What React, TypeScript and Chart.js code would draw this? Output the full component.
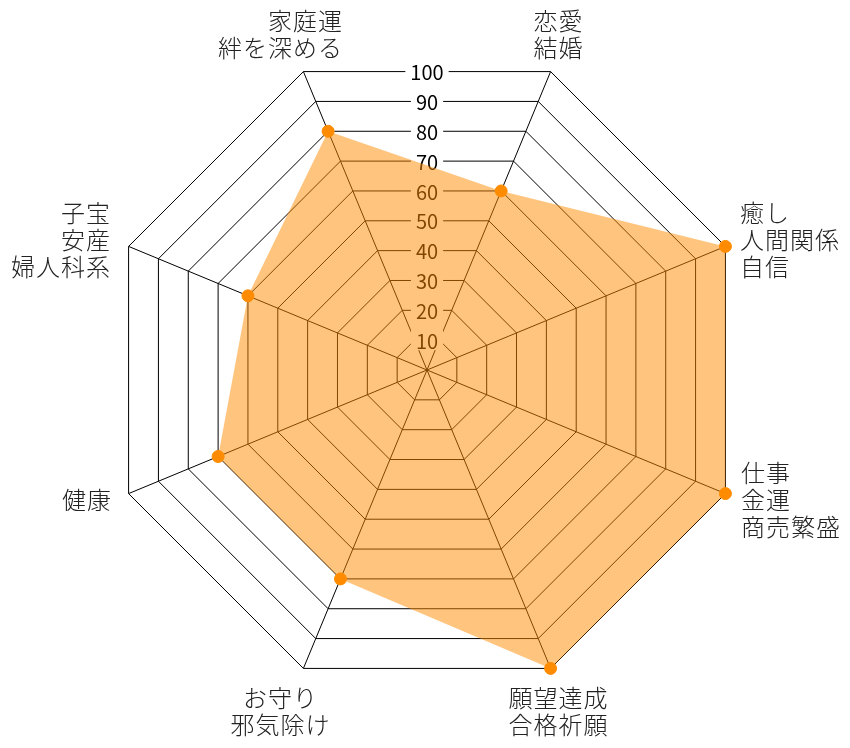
import { useEffect, useRef } from 'react';
import { Chart, registerables } from 'chart.js';

Chart.register(...registerables);

// axis labels, clockwise from the upper-left axis
const categories: string[][] = [
  ['家庭運', '絆を深める'],
  ['恋愛', '結婚'],
  ['癒し', '人間関係', '自信'],
  ['仕事', '金運', '商売繁盛'],
  ['願望達成', '合格祈願'],
  ['お守り', '邪気除け'],
  ['健康'],
  ['子宝', '安産', '婦人科系'],
];

const scores = [80, 60, 100, 100, 100, 70, 70, 60];

const tickValues = [10, 20, 30, 40, 50, 60, 70, 80, 90, 100];

const FONT = '"Noto Sans CJK JP", "Noto Sans", sans-serif';

// how each label block sits against its axis end
const labelAlign: CanvasTextAlign[] = ['right', 'center', 'left', 'left', 'center', 'center', 'right', 'right'];
const labelShift = [46, 1.5, -1, 0, 1.5, -16.5, -1, -2];

const radarText = {
  id: 'radarText',
  // tick labels go under the dataset fill, like the grid
  beforeDatasetsDraw(chart: Chart) {
    const scale: any = chart.scales.r;
    const ctx = chart.ctx;
    const k = Math.cos(Math.PI / 8);
    ctx.save();
    ctx.font = `20px ${FONT}`;
    ctx.textAlign = 'center';
    ctx.textBaseline = 'middle';
    tickValues.forEach(v => {
      const y = scale.yCenter - scale.getDistanceFromCenterForValue(v) * k;
      const label = String(v);
      const w = ctx.measureText(label).width;
      ctx.fillStyle = '#ffffff';
      ctx.fillRect(scale.xCenter - w / 2 - 5, y - 10, w + 10, 20);
      ctx.fillStyle = '#000000';
      ctx.fillText(label, scale.xCenter, y + 1);
    });
    ctx.restore();
  },
  afterDraw(chart: Chart) {
    const scale: any = chart.scales.r;
    const ctx: any = chart.ctx;
    const lineH = 27;
    ctx.save();
    ctx.font = `300 24px ${FONT}`;
    ctx.letterSpacing = '1px';
    ctx.textBaseline = 'middle';
    ctx.fillStyle = '#222222';
    categories.forEach((lines, i) => {
      const p = scale.getPointPosition(i, scale.drawingArea + 17);
      const dx = Math.cos(p.angle);
      const dy = Math.sin(p.angle);
      let y0: number;
      if (Math.abs(dx) > Math.abs(dy)) {
        y0 = p.y - ((lines.length - 1) * lineH) / 2;
      } else if (dy < 0) {
        y0 = p.y - 8.5 - (lines.length - 1) * lineH;
      } else {
        y0 = p.y + 14;
      }
      ctx.textAlign = labelAlign[i];
      lines.forEach((line, j) => {
        ctx.fillText(line, p.x + labelShift[i], y0 + j * lineH);
      });
    });
    ctx.restore();
  },
};

const App = () => {
  const chartRef = useRef<HTMLCanvasElement>(null);
  const chartInstance = useRef<Chart | null>(null);

  useEffect(() => {
    if (!chartRef.current) return;
    if (chartInstance.current) {
      chartInstance.current.destroy();
    }
    const ctx = chartRef.current.getContext('2d');
    if (!ctx) return;

    chartInstance.current = new Chart(ctx, {
      type: 'radar',
      data: {
        labels: categories,
        datasets: [
          {
            data: scores,
            fill: true,
            backgroundColor: 'rgba(255, 140, 0, 0.5)',
            borderWidth: 0,
            pointRadius: 6,
            pointBorderWidth: 1,
            pointBackgroundColor: '#ff8c00',
            pointBorderColor: '#ff8c00',
          },
        ],
      },
      options: {
        responsive: false,
        animation: false,
        layout: {
          padding: { top: 47, bottom: 55, left: 104, right: 100 },
        },
        plugins: {
          legend: { display: false },
          tooltip: { enabled: false },
        },
        scales: {
          r: {
            min: 0,
            max: 100,
            startAngle: -22.5,
            ticks: { stepSize: 10, display: false },
            grid: { color: '#000000', lineWidth: 1 },
            angleLines: { color: '#000000', lineWidth: 1 },
            pointLabels: { display: false },
          },
        },
      },
      plugins: [radarText],
    });

    return () => {
      if (chartInstance.current) {
        chartInstance.current.destroy();
        chartInstance.current = null;
      }
    };
  }, []);

  return (
    <div style={{ position: 'absolute', left: 0, top: 0, width: 850, height: 748, background: '#fff' }}>
      <canvas ref={chartRef} width={850} height={748} />
    </div>
  );
};

export default App;
